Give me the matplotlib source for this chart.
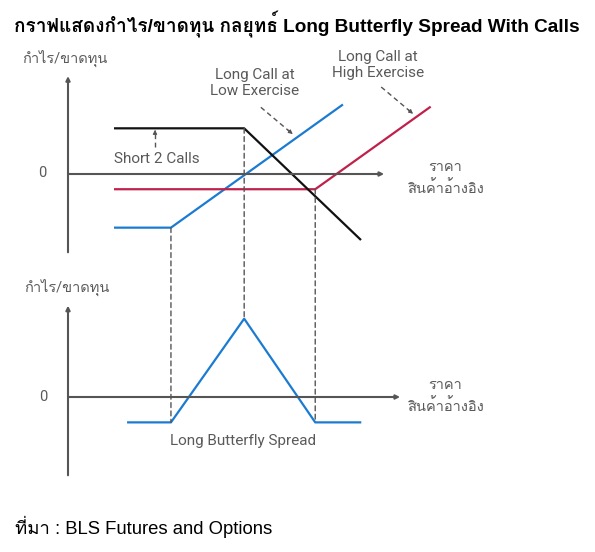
"""
Long Butterfly Spread with calls -- payoff diagram (schematic).
Top panel: the three legs. Bottom panel: the combined position.
"""

import matplotlib
matplotlib.use("Agg")
import matplotlib.pyplot as plt
from matplotlib import font_manager
from matplotlib.ft2font import FT2Font
from matplotlib.patches import ConnectionPatch

# ----------------------------------------------------------------
# Data (schematic units: price on x, profit/loss on y)
# ----------------------------------------------------------------
K_LOW, K_MID, K_HIGH = 14.2, 24.3, 34.1

LONG_LOW_PRICE = [6.5, K_LOW, 37.8]
LONG_LOW_PL = [-7.4, -7.4, 9.5]

SHORT_MID_PRICE = [6.5, K_MID, 40.3]
SHORT_MID_PL = [6.3, 6.3, -9.0]

LONG_HIGH_PRICE = [6.5, K_HIGH, 49.9]
LONG_HIGH_PL = [-2.1, -2.1, 9.2]

FLY_PRICE = [8.3, K_LOW, K_MID, K_HIGH, 40.3]
FLY_PL = [-3.5, -3.5, 10.8, -3.5, -3.5]

TITLE = "กราฟแสดงกำไร/ขาดทุน กลยุทธ์ Long Butterfly Spread With Calls"
Y_LABEL = "กำไร/ขาดทุน"
X_LABEL = "ราคา\nสินค้าอ้างอิง"
SOURCE = "ที่มา : BLS Futures and Options"

# ----------------------------------------------------------------
# Style
# ----------------------------------------------------------------
BLUE = "#1b7bd0"
RED = "#c0214b"
BLACK = "#111111"
GREY = "#555555"
TEXT_GREY = "#5a5a5a"

W, H = 595, 552
PX_PER_UNIT = 7.25
AXIS_X_PX = 68
TOP_ZERO_PX = 174
BOT_ZERO_PX = 397


def find_thai_font():
    """First installed font that has Thai glyphs (or None)."""
    for f in font_manager.fontManager.ttflist:
        try:
            if 0x0E01 in FT2Font(f.fname).get_charmap():
                return f.name
        except Exception:
            continue
    return None


THAI = find_thai_font()
LABEL_FONT = ["Roboto"] + ([THAI] if THAI else []) + ["DejaVu Sans"]
ARIAL_FONT = ["Liberation Sans"] + ([THAI] if THAI else []) + ["DejaVu Sans"]


def fx(px):
    return px / W


def fy(py):
    return 1 - py / H


def make_panel(zero_px):
    ax = fig.add_axes([0, 0, 1, 1])
    ax.set_xlim(-AXIS_X_PX / PX_PER_UNIT, (W - AXIS_X_PX) / PX_PER_UNIT)
    ax.set_ylim(-(H - zero_px) / PX_PER_UNIT, zero_px / PX_PER_UNIT)
    ax.axis("off")
    ax.patch.set_alpha(0)
    return ax


def axis_arrow(ax, start, end):
    ax.annotate("", xy=end, xytext=start,
                arrowprops=dict(arrowstyle="-|>", color=GREY, lw=1.5,
                                mutation_scale=6, shrinkA=0, shrinkB=0))


def dashed_arrow(ax, start, end):
    ax.plot([start[0], end[0]], [start[1], end[1]], color=GREY, lw=1.0,
            ls=(0, (3.5, 2.5)))
    dx = (end[0] - start[0]) * 0.15
    dy = (end[1] - start[1]) * 0.15
    ax.annotate("", xy=end, xytext=(end[0] - dx, end[1] - dy),
                arrowprops=dict(arrowstyle="-|>", color=GREY, lw=0.8,
                                mutation_scale=6, shrinkA=0, shrinkB=0))


fig = plt.figure(figsize=(W / 100, H / 100), dpi=100)
ax_top = make_panel(TOP_ZERO_PX)
ax_bot = make_panel(BOT_ZERO_PX)

# ── Top panel: the three legs ──────────────────────────────
axis_arrow(ax_top, (0, -10.8), (0, 13.5))
axis_arrow(ax_top, (0, 0), (43.6, 0))
ax_top.plot(LONG_LOW_PRICE, LONG_LOW_PL, color=BLUE, lw=1.6)
ax_top.plot(LONG_HIGH_PRICE, LONG_HIGH_PL, color=RED, lw=1.6)
ax_top.plot(SHORT_MID_PRICE, SHORT_MID_PL, color=BLACK, lw=1.6)

dashed_arrow(ax_top, (12.0, 3.7), (12.0, 6.1))
dashed_arrow(ax_top, (26.6, 9.2), (31.0, 5.5))
dashed_arrow(ax_top, (43.2, 12.0), (47.6, 8.3))

# ── Bottom panel: combined position ────────────────────────
axis_arrow(ax_bot, (0, -10.8), (0, 12.6))
axis_arrow(ax_bot, (0, 0), (45.8, 0))
ax_bot.plot(FLY_PRICE, FLY_PL, color=BLUE, lw=1.6)

# strikes linking the two panels
for k, pl_top, pl_bot in [(K_LOW, LONG_LOW_PL[0], FLY_PL[1]),
                          (K_MID, SHORT_MID_PL[0], FLY_PL[2]),
                          (K_HIGH, LONG_HIGH_PL[0], FLY_PL[3])]:
    con = ConnectionPatch(xyA=(k, pl_top), coordsA=ax_top.transData,
                          xyB=(k, pl_bot), coordsB=ax_bot.transData,
                          color=GREY, lw=1.0, ls=(0, (3.5, 2.5)))
    fig.add_artist(con)

# ── Texts ──────────────────────────────────────────────────
lab = dict(color=TEXT_GREY, fontsize=11, family=LABEL_FONT,
           ha="center", va="center", linespacing=1.2)
thai = dict(lab, fontsize=10.5, linespacing=1.45)
fig.text(fx(65), fy(58), Y_LABEL, **thai)
fig.text(fx(67), fy(287), Y_LABEL, **thai)
fig.text(fx(42), fy(173), "0", **thai)
fig.text(fx(43), fy(397), "0", **thai)
fig.text(fx(445), fy(178), X_LABEL, **thai)
fig.text(fx(445), fy(396), X_LABEL, **thai)
fig.text(fx(255), fy(83), "Long Call at\nLow Exercise", **lab)
fig.text(fx(378), fy(65), "Long Call at\nHigh Exercise", **lab)
fig.text(fx(157), fy(159), "Short 2 Calls", **lab)
fig.text(fx(243), fy(441), "Long Butterfly Spread", **lab)

fig.text(fx(297), fy(25), TITLE, fontsize=13.7, fontweight="bold",
         family=ARIAL_FONT, ha="center", va="center")
fig.text(fx(15), fy(527), SOURCE, fontsize=13.3, family=ARIAL_FONT,
         ha="left", va="center")

fig.savefig("out.png", dpi=100)
